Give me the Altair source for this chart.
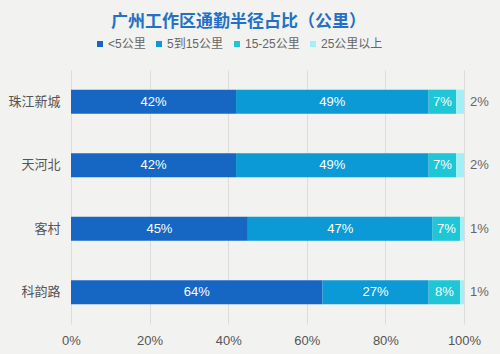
import altair as alt
import pandas as pd

categories = ["珠江新城", "天河北", "客村", "科韵路"]
series = ["<5公里", "5到15公里", "15-25公里", "25公里以上"]
v_lt5 = [42, 42, 45, 64]
v_5_15 = [49, 49, 47, 27]
v_15_25 = [7, 7, 7, 8]
v_gt25 = [2, 2, 1, 1]
colors = ["#1667c4", "#0b9ad6", "#1ec6d6", "#a2f0f7"]
x_ticks = [0, 20, 40, 60, 80, 100]

FONT = "Liberation Sans, Noto Sans CJK SC, sans-serif"

rows = []
for i, c in enumerate(categories):
    vals = [v_lt5[i], v_5_15[i], v_15_25[i], v_gt25[i]]
    start = 0
    for s, v in zip(series, vals):
        rows.append({"cat": c, "series": s, "v": v, "x0": start, "x1": start + v,
                     "mid": start + v / 2, "label": f"{v}%", "inside": s != series[-1]})
        start += v
df = pd.DataFrame(rows)

y_enc = alt.Y("cat:N", sort=categories, title=None,
              scale=alt.Scale(paddingInner=0.62, paddingOuter=0.31),
              axis=alt.Axis(domain=False, ticks=False, labelPadding=11, labelFontSize=13,
                            labelColor="#555555", labelFont=FONT))

bars = alt.Chart(df).mark_bar().encode(
    x=alt.X("x0:Q", title=None, scale=alt.Scale(domain=[0, 100], nice=False),
            axis=alt.Axis(values=x_ticks, labelExpr="datum.value + '%'", domain=False, ticks=False,
                          grid=True, gridColor="#dcdcdc", labelPadding=10, labelFontSize=13,
                          labelFlush=False,
                          labelColor="#555555", labelFont=FONT)),
    x2="x1:Q",
    y=y_enc,
    color=alt.Color("series:N", scale=alt.Scale(domain=series, range=colors),
                    legend=alt.Legend(title=None, orient="none", direction="horizontal",
                                      legendX=23, legendY=-32, symbolType="square", symbolSize=36,
                                      symbolStrokeWidth=0, labelFontSize=12, labelColor="#666666",
                                      labelFont=FONT, columnPadding=7, labelOffset=2)),
)

inner = alt.Chart(df).transform_filter("datum.inside").mark_text(
    color="white", fontSize=13, font=FONT).encode(
    x="mid:Q", y=alt.Y("cat:N", sort=categories), text="label:N")

outer = alt.Chart(df).transform_filter("!datum.inside").mark_text(
    color="#666666", fontSize=13, font=FONT, align="left", dx=6).encode(
    x="x1:Q", y=alt.Y("cat:N", sort=categories), text="label:N")

chart = alt.layer(bars, inner, outer).properties(
    width=393, height=254,
    title=alt.TitleParams("广州工作区通勤半径占比（公里）", anchor="middle", dx=-29, offset=7,
                          fontSize=17, fontWeight="bold", color="#2470c4", font=FONT),
    autosize=alt.AutoSizeParams(type="none"),
    padding={"left": 71, "top": 70, "right": 36, "bottom": 30},
).configure(background="#f2f2f0").configure_view(stroke=None)

chart.save("out.html", embed_options={"renderer": "svg", "actions": False})
